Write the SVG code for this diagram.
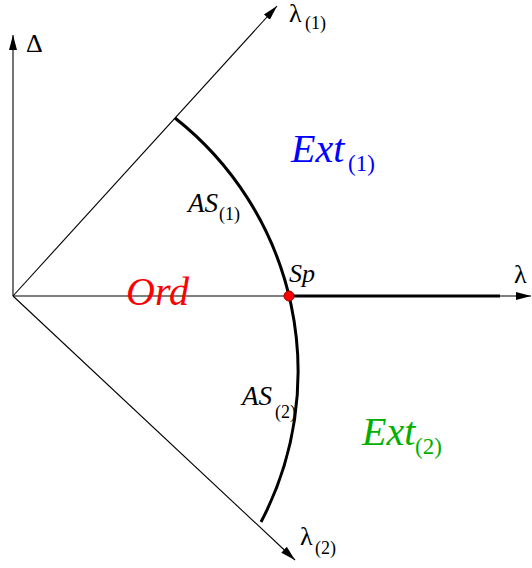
<svg xmlns="http://www.w3.org/2000/svg" width="532" height="568" viewBox="0 0 532 568">
<style>
.ax{stroke:#000;stroke-width:1.1;fill:none}
.thick{stroke:#000;stroke-width:3;fill:none}
text{font-family:'Liberation Serif','DejaVu Serif',serif;fill:#000}
.i{font-style:italic}
.blue{fill:#0000ff}
.red{fill:#ff0000}
.green{fill:#00b000}
</style>
<defs>
<marker id="ah" markerWidth="16" markerHeight="10" refX="15" refY="5" orient="auto" markerUnits="userSpaceOnUse">
<path d="M0,1 L15,5 L0,9 Z" fill="#000"/>
</marker>
</defs>
<g id="connectors">
<line class="ax" x1="13" y1="296" x2="13" y2="35" marker-end="url(#ah)"/>
<line class="ax" x1="13" y1="296" x2="531" y2="296" marker-end="url(#ah)"/>
<line class="ax" x1="13" y1="296" x2="277" y2="6" marker-end="url(#ah)"/>
<line class="ax" x1="13" y1="296" x2="295" y2="560" marker-end="url(#ah)"/>
<line class="thick" x1="289" y1="296" x2="500" y2="296"/>
<path id="arc" class="thick" d="M175,118 A323,323 0 0 1 261,522" stroke-width="2.7"/>
</g>
<g id="delta"><text x="26" y="52" font-size="26">Δ</text></g>
<g id="lambda1"><text x="289" y="22" font-size="26">λ</text><text x="305" y="29" font-size="18">(1)</text></g>
<g id="lambda"><text x="514" y="283" font-size="26">λ</text></g>
<g id="lambda2"><text x="300" y="545" font-size="26">λ</text><text x="315" y="554" font-size="18">(2)</text></g>
<g id="as1"><text class="i" x="188" y="212" font-size="27">AS</text><text x="219" y="220" font-size="18">(1)</text></g>
<g id="as2"><text class="i" x="242" y="405" font-size="27">AS</text><text x="275" y="418" font-size="18">(2)</text></g>
<g id="sp"><circle cx="289" cy="296" r="5" fill="#ff0000" stroke="#a00000" stroke-width="1"/><text class="i" x="289" y="282" font-size="26">Sp</text></g>
<g id="ext1"><text class="i blue" x="291" y="162" font-size="40">Ext</text><text class="blue" x="348" y="171" font-size="23">(1)</text></g>
<g id="ext2"><text class="i green" x="362" y="445" font-size="40">Ext</text><text class="green" x="415" y="454" font-size="23">(2)</text></g>
<g id="ord"><text class="i red" x="126" y="305" font-size="40">Ord</text></g>
</svg>
